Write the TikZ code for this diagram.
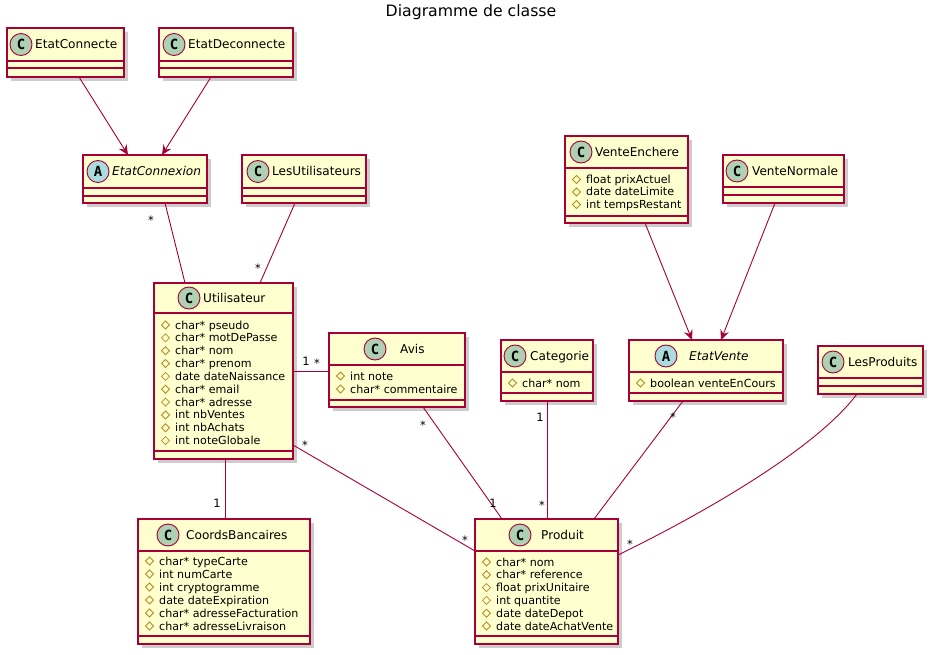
\documentclass[tikz,border=0pt]{standalone}
\usepackage{fontspec}
\setmainfont{DejaVu Sans}
\newfontfamily\iconfont{DejaVu Sans Mono}
\usetikzlibrary{shadows,arrows.meta}
\definecolor{umlborder}{HTML}{A80036}
\definecolor{umlfill}{HTML}{FEFECE}
\definecolor{cicon}{HTML}{ADD1B2}
\definecolor{aicon}{HTML}{A9DCDF}
\definecolor{protcol}{HTML}{B38D22}
\tikzset{
  classbox/.style={draw=umlborder, fill=umlfill, line width=1.1pt, inner sep=0pt, outer sep=0pt, anchor=north west,
    drop shadow={shadow xshift=4pt, shadow yshift=-4pt, fill=black, opacity=0.2}},
  sepline/.style={draw=umlborder, line width=1.1pt},
  iconC/.style={circle, draw=umlborder, line width=0.9pt, fill=cicon, minimum size=22pt, inner sep=0pt,
    font=\iconfont\bfseries\fontsize{14}{14}\selectfont},
  iconA/.style={iconC, fill=aicon},
  cname/.style={anchor=west, inner sep=0pt, font=\fontsize{12.1}{14}\selectfont, text height=9pt, text depth=0pt},
  attrtext/.style={anchor=west, inner sep=0pt, font=\fontsize{11.1}{13}\selectfont, text height=8pt, text depth=0pt},
  diam/.style={draw=protcol, line width=0.8pt},
  conn/.style={draw=umlborder, line width=0.9pt},
  inherit/.style={conn, -{Stealth[length=10pt, width=9pt, inset=3.5pt]}},
  mult/.style={anchor=base, inner sep=0pt, font=\fontsize{11.5}{14}\selectfont},
}
% box: name, left, top, right, bottom, header line, separator line
\newcommand\umlclass[7]{%
  \pgfmathsetmacro\umlw{#4-#2}\pgfmathsetmacro\umlh{#5-#3}%
  \node[classbox, minimum width=\umlw pt, minimum height=\umlh pt] (#1) at (#2,#3) {};
  \draw[sepline] (#2,#6) -- (#4,#6);
  \draw[sepline] (#2,#7) -- (#4,#7);
}
% header: name, icon style, letter, circle x, y, text x, text
\newcommand\umlhead[7]{%
  \node[#2] (#1-icon) at (#4,#5) {#3};
  \node[cname] (#1-name) at (#6,#5) {#7};
}
% attribute: node name, box left, y, text
\newcommand\umlattr[4]{%
  \draw[diam] (#2+7.5,#3) -- (#2+11.5,#3-4) -- (#2+15.5,#3) -- (#2+11.5,#3+4) -- cycle;
  \node[attrtext] (#1) at (#2+21,#3) {#4};
}
\newcommand\multone[3]{\node[mult] (#1) at (#2,#3+4.2) {1};}
\newcommand\multstar[3]{\node[mult] (#1) at (#2,#3+6.8) {*};}

\begin{document}
\begin{tikzpicture}[x=1pt, y=-1pt]
\useasboundingbox[fill=white] (0,0) rectangle (934,655);

\node[font=\fontsize{15.7}{18}\selectfont, inner sep=0pt] (title) at (471,12) {Diagramme de classe};

% EtatConnecte
\umlclass{ec}{7}{28}{124}{77}{61}{68}
\umlhead{ec}{iconC}{C}{21}{44.5}{35}{EtatConnecte}
% EtatDeconnecte
\umlclass{ed}{159}{28}{293}{77}{61}{68}
\umlhead{ed}{iconC}{C}{174}{44.5}{188}{EtatDeconnecte}
% EtatConnexion
\umlclass{ecx}{83}{155}{207}{203}{188}{196}
\umlhead{ecx}{iconA}{A}{98}{171.5}{112}{\itshape EtatConnexion}
% LesUtilisateurs
\umlclass{lu}{242}{155}{366}{203}{188}{196}
\umlhead{lu}{iconC}{C}{258}{171.5}{272}{LesUtilisateurs}
% Utilisateur
\umlclass{util}{154}{283}{293}{459}{313}{451}
\umlhead{util}{iconC}{C}{189}{298}{203}{Utilisateur}
\umlattr{util-a1}{154}{325}{char* pseudo}
\umlattr{util-a2}{154}{337.85}{char* motDePasse}
\umlattr{util-a3}{154}{350.7}{char* nom}
\umlattr{util-a4}{154}{363.55}{char* prenom}
\umlattr{util-a5}{154}{376.4}{date dateNaissance}
\umlattr{util-a6}{154}{389.25}{char* email}
\umlattr{util-a7}{154}{402.1}{char* adresse}
\umlattr{util-a8}{154}{414.95}{int nbVentes}
\umlattr{util-a9}{154}{427.8}{int nbAchats}
\umlattr{util-a10}{154}{440.65}{int noteGlobale}
% Avis
\umlclass{avis}{329}{333}{465}{407}{365}{400}
\umlhead{avis}{iconC}{C}{375}{349}{400}{Avis}
\umlattr{avis-a1}{329}{376}{int note}
\umlattr{avis-a2}{329}{389}{char* commentaire}
% Categorie
\umlclass{cat}{501}{340}{593}{401}{372}{393}
\umlhead{cat}{iconC}{C}{515}{356}{530}{Categorie}
\umlattr{cat-a1}{501}{383}{char* nom}
% EtatVente
\umlclass{ev}{629}{340}{783}{401}{372}{393}
\umlhead{ev}{iconA}{A}{666}{356}{689}{\itshape EtatVente}
\umlattr{ev-a1}{629}{383}{boolean venteEnCours}
% LesProduits
\umlclass{lp}{818}{346}{923}{394}{378}{386}
\umlhead{lp}{iconC}{C}{833}{362}{848}{LesProduits}
% Produit
\umlclass{prod}{475}{519}{618}{644}{551}{636}
\umlhead{prod}{iconC}{C}{520}{535}{541}{Produit}
\umlattr{prod-a1}{475}{562}{char* nom}
\umlattr{prod-a2}{475}{574.8}{char* reference}
\umlattr{prod-a3}{475}{587.6}{float prixUnitaire}
\umlattr{prod-a4}{475}{600.4}{int quantite}
\umlattr{prod-a5}{475}{613.2}{date dateDepot}
\umlattr{prod-a6}{475}{626}{date dateAchatVente}
% CoordsBancaires
\umlclass{cb}{138}{519}{310}{644}{551}{636}
\umlhead{cb}{iconC}{C}{168}{535}{186}{CoordsBancaires}
\umlattr{cb-a1}{138}{561}{char* typeCarte}
\umlattr{cb-a2}{138}{574}{int numCarte}
\umlattr{cb-a3}{138}{587}{int cryptogramme}
\umlattr{cb-a4}{138}{600}{date dateExpiration}
\umlattr{cb-a5}{138}{613}{char* adresseFacturation}
\umlattr{cb-a6}{138}{626}{char* adresseLivraison}
% VenteEnchere
\umlclass{ve}{565}{136}{688}{223}{168}{216}
\umlhead{ve}{iconC}{C}{581}{152}{595}{VenteEnchere}
\umlattr{ve-a1}{565}{179.5}{float prixActuel}
\umlattr{ve-a2}{565}{192}{date dateLimite}
\umlattr{ve-a3}{565}{204.5}{int tempsRestant}
% VenteNormale
\umlclass{vn}{723}{155}{844}{203}{187}{195}
\umlhead{vn}{iconC}{C}{737}{171}{752}{VenteNormale}

% inheritance arrows
\draw[inherit] ([xshift=72pt]ec.south west) -- ([xshift=45pt]ecx.north west);
\draw[inherit] ([xshift=52pt]ed.south west) -- ([xshift=79pt]ecx.north west);
\draw[inherit] ([xshift=80pt]ve.south west) -- ([xshift=63pt]ev.north west);
\draw[inherit] ([xshift=52pt]vn.south west) -- ([xshift=92pt]ev.north west);

% associations
\draw[conn] ([xshift=82pt]ecx.south west) -- ([xshift=31pt]util.north west);
\draw[conn] ([xshift=53pt]lu.south west) -- ([xshift=106pt]util.north west);
\draw[conn] ([yshift=-88pt]util.north east) -- ([yshift=-38pt]avis.north west);
\draw[conn] ([xshift=71pt]util.south west) -- ([xshift=87pt]cb.north west);
\draw[conn] ([yshift=-162pt]util.north east) -- ([yshift=-32pt]prod.north west);
\draw[conn] ([xshift=94pt]avis.south west) -- ([xshift=27pt]prod.north west);
\draw[conn] (cat.south) -- ([xshift=72pt]prod.north west);
\draw[conn] ([xshift=54pt]ev.south west) -- ([xshift=119pt]prod.north west);
\draw[conn] ([xshift=39pt]lp.south west) .. controls (815,450) and (700,515) .. ([yshift=-36pt]prod.north east);

% multiplicities
\multstar{m1}{151}{218}
\multstar{m2}{258}{266}
\multone{m3}{306}{361}
\multstar{m4}{317}{361}
\multone{m5}{217}{503}
\multstar{m6}{305}{443}
\multstar{m7}{465}{538}
\multstar{m8}{423}{423}
\multone{m9}{493}{503}
\multone{m10}{540}{417}
\multstar{m11}{542}{503}
\multstar{m12}{673}{415}
\multstar{m13}{630}{542}
\end{tikzpicture}
\end{document}
